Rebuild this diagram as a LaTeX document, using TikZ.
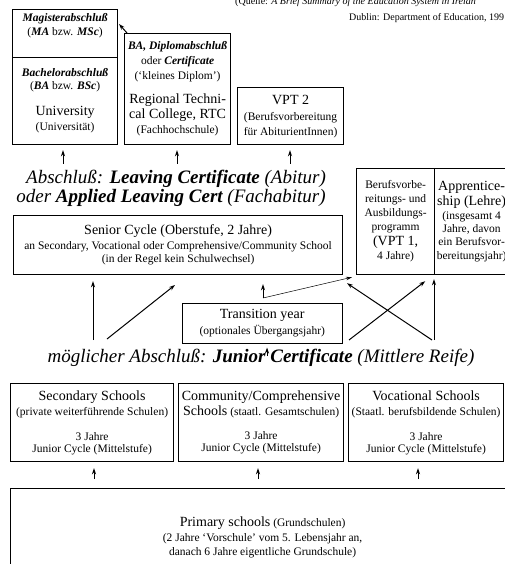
\documentclass[tikz,border=0pt]{standalone}
\usepackage{fontspec}
\setmainfont{Liberation Serif}
\usetikzlibrary{arrows.meta,positioning}

\newcommand{\smtxt}{\fontsize{11.5}{14}\selectfont}
\newcommand{\bigtxt}{\fontsize{14}{15}\selectfont}
\newcommand{\headtxt}{\fontsize{19}{21}\selectfont}
\newcommand{\bfit}[1]{\textbf{\textit{#1}}}

\tikzset{
  schoolbox/.style={draw, line width=1.2pt, align=center, inner sep=0pt, anchor=north west, font=\smtxt},
  thinbox/.style={schoolbox, line width=0.5pt},
  txt/.style={inner sep=0pt, align=center, font=\smtxt},
  headline/.style={inner sep=0pt, font=\headtxt\itshape},
  uparrow/.style={-{Stealth[length=6pt,width=4pt]}, line width=1pt},
  thinarrow/.style={-{Stealth[length=6pt,width=3.5pt]}, line width=0.5pt},
}

\begin{document}
\begin{tikzpicture}[x=1pt, y=-1pt]
\useasboundingbox (0,0) rectangle (504,564);

% Quelle
\node[txt, anchor=base west, font=\fontsize{10}{12}\selectfont] (quelle) at (235,4.5) {(Quelle: \textit{A Brief Summary of the Education System in Irelan}};
\node[txt, anchor=west, font=\fontsize{10}{12}\selectfont] (dublin) at (349,18) {Dublin: Department of Education, 199};

% University
\node[schoolbox, minimum width=105, minimum height=48] (mag) at (12,9) {};
\node[txt, below=4pt of mag.north] (magtxt) {\bfit{Magisterabschluß}\\(\bfit{MA} bzw. \bfit{MSc})};
\node[schoolbox, minimum width=105, minimum height=87] (bach) at (12,57) {\bfit{Bachelorabschluß}\\[-1pt](\bfit{BA} bzw. \bfit{BSc})\\[12pt]{\bigtxt University}\\[1pt](Universität)};

% Regional Technical College
\node[schoolbox, minimum width=106, minimum height=111] (rtc) at (124,33) {\bfit{BA, Diplomabschluß}\\[1pt]oder \bfit{Certificate}\\[1pt](‘kleines Diplom’)\\[10pt]{\bigtxt Regional Techni-}\\[1pt]{\bigtxt cal College, RTC}\\[1pt](Fachhochschule)};
\draw[uparrow] ([xshift=3pt]rtc.north west) -- ([shift={(-5,-9)}]rtc.north west);

% VPT 2
\node[schoolbox, minimum width=106, minimum height=57] (vpt2) at (237,87) {{\bigtxt VPT 2}\\[2pt](Berufsvorbereitung\\[1pt]für AbiturientInnen)};

% Pfeile zum Studium
\coordinate (t1) at (63,164);
\coordinate (t2) at (177,164);
\coordinate (t3) at (290,164);
\draw[uparrow, shorten >=5pt] (t1) -- (t1 |- bach.south);
\draw[uparrow, shorten >=5pt] (t2) -- (t2 |- rtc.south);
\draw[uparrow, shorten >=5pt] (t3) -- (t3 |- vpt2.south);

% Leaving Certificate
\node[headline] (abschluss) at (176,179) {Abschluß: \bfit{Leaving Certificate} (Abitur)};
\node[headline] (applied) at (171,198) {oder \bfit{Applied Leaving Cert} (Fachabitur)};

% Senior Cycle
\node[schoolbox, minimum width=329, minimum height=59] (senior) at (13,215) {{\bigtxt Senior Cycle (Oberstufe, 2 Jahre)}\\[1pt]an Secondary, Vocational oder Comprehensive/Community School\\[-1pt](in der Regel kein Schulwechsel)};

% VPT 1 und Apprenticeship
\node[schoolbox, minimum width=78, minimum height=106] (vpt1) at (356,168) {Berufsvorbe-\\reitungs- und\\Ausbildungs-\\programm\\[1pt]{\bigtxt (VPT 1,}\\4 Jahre)};
\node[schoolbox, minimum width=74, minimum height=106] (appr) at (434,168) {{\bigtxt Apprentice-}\\[1pt]{\bigtxt ship (Lehre)}\\(insgesamt 4\\[-1pt]Jahre, davon\\[-1pt]ein Berufsvor-\\bereitungsjahr)};

% Transition year
\node[thinbox, minimum width=160, minimum height=40] (trans) at (182,303) {{\bigtxt Transition year}\\[2pt](optionales Übergangsjahr)};

% Pfeile zum Senior Cycle
\coordinate (t4) at (93,340);
\coordinate (t5) at (107,339);
\coordinate (h5) at (175,285);
\coordinate (tt) at (263,298);
\draw[uparrow, shorten >=6pt] (t4) -- (t4 |- senior.south);
\draw[uparrow] (t5) -- (h5);
\draw[uparrow, shorten >=9pt] (tt) -- (tt |- senior.south);
\draw[thinarrow] (tt) -- ([shift={(-4,2)}]vpt1.south west);

% Kreuz
\coordinate (c1) at (349,340);
\coordinate (c2) at (432,340);
\coordinate (c3) at (434,340);
\draw[uparrow] (c1) -- ([shift={(-10,6)}]vpt1.south east);
\draw[uparrow] (c2) -- ([shift={(-9,8)}]vpt1.south west);
\draw[uparrow, shorten >=4pt] (c3) -- (c3 |- vpt1.south east);

% Junior Certificate
\node[headline] (junior) at (261,358) {möglicher Abschluß: \bfit{Junior Certificate} (Mittlere Reife)};
\coordinate (t6) at (267,356);
\draw[uparrow, shorten >=4pt] (t6) -- (t6 |- trans.south);

% Junior Cycle
\node[schoolbox, minimum width=163, minimum height=78] (sec) at (10,383) {{\bigtxt Secondary Schools}\\[1pt](private weiterführende Schulen)\\[11pt]3 Jahre\\[-2pt]Junior Cycle (Mittelstufe)};
\node[schoolbox, minimum width=165, minimum height=78] (comm) at (178,383) {{\bigtxt Community/Comprehensive}\\[1pt]{\bigtxt Schools} (staatl. Gesamtschulen)\\[10pt]3 Jahre\\[-2pt]Junior Cycle (Mittelstufe)};
\node[schoolbox, minimum width=155, minimum height=78] (voc) at (348,383) {{\bigtxt Vocational Schools}\\[1pt](Staatl. berufsbildende Schulen)\\[11pt]3 Jahre\\[-2pt]Junior Cycle (Mittelstufe)};

% Pfeile von der Grundschule
\coordinate (b1) at (94,479);
\coordinate (b2) at (258,479);
\coordinate (b3) at (418,479);
\draw[uparrow, shorten >=6pt] (b1) -- (b1 |- sec.south);
\draw[uparrow, shorten >=6pt] (b2) -- (b2 |- comm.south);
\draw[uparrow, shorten >=6pt] (b3) -- (b3 |- voc.south);

% Primary schools
\node[schoolbox, minimum width=504, minimum height=98] (prim) at (10,488) {{\bigtxt Primary schools} (Grundschulen)\\[1pt](2 Jahre ‘Vorschule’ vom 5. Lebensjahr an,\\danach 6 Jahre eigentliche Grundschule)};
\end{tikzpicture}
\end{document}
